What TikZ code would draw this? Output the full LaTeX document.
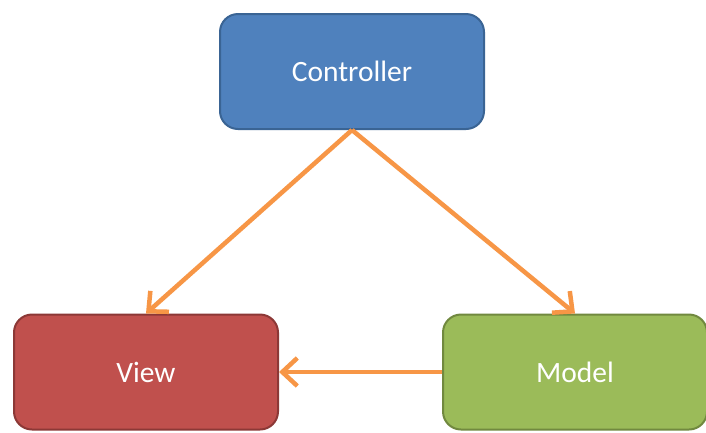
\documentclass[tikz,border=0pt]{standalone}
\usepackage{fontspec}
\setmainfont{Carlito}
\usetikzlibrary{arrows.meta}
\definecolor{cblue}{HTML}{4F81BD}
\definecolor{cblueB}{HTML}{3A6494}
\definecolor{cred}{HTML}{C0504D}
\definecolor{credB}{HTML}{8C3836}
\definecolor{cgreen}{HTML}{9BBB59}
\definecolor{cgreenB}{HTML}{71893F}
\definecolor{corange}{HTML}{F79646}
\tikzset{
  boxnode/.style={rounded corners=18pt, line width=2pt, minimum width=264pt, minimum height=115pt,
    text=white, font=\fontsize{29.5}{32}\selectfont, inner sep=0pt},
  conn/.style={draw=corange, line width=4.5pt, -{Straight Barb[length=15pt,width=28pt,line width=4.5pt]}}
}
\begin{document}
\begin{tikzpicture}[x=1pt,y=-1pt]
\useasboundingbox (0,0) rectangle (706,432);
\fill[white] (0,0) rectangle (706,432);
\node[boxnode, fill=cblue, draw=cblueB] (ctrl) at (352,71.5) {Controller};
\node[boxnode, fill=cred, draw=credB] (view) at (146,372) {View};
\node[boxnode, fill=cgreen, draw=cgreenB] (model) at (575,372) {Model};
\draw[conn] (ctrl.south) -- (view.north);
\draw[conn] (ctrl.south) -- (model.north);
\draw[conn] (model.west) -- (view.east);
\end{tikzpicture}
\end{document}
